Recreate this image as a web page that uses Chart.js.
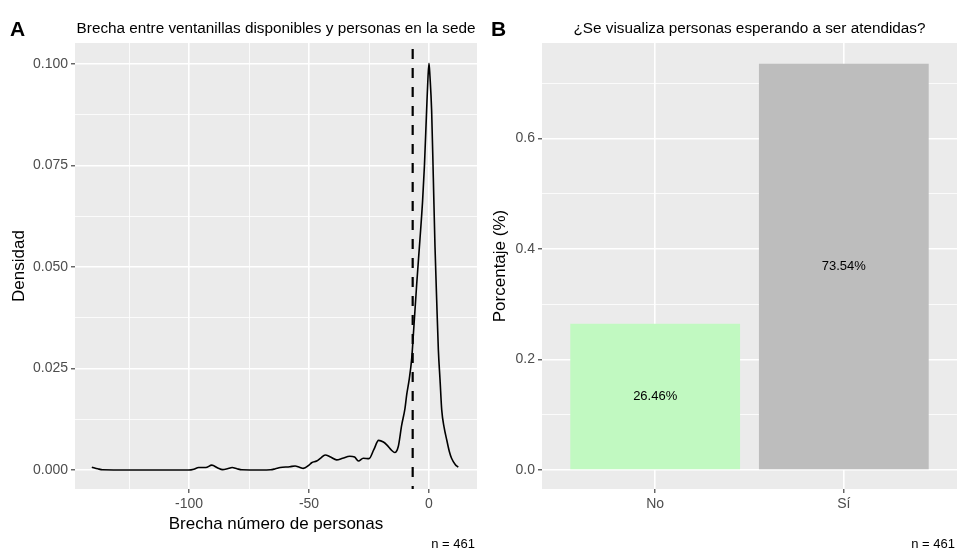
<!DOCTYPE html>
<html>
<head>
<meta charset="utf-8">
<script src="https://cdn.jsdelivr.net/npm/chart.js@4.4.1/dist/chart.umd.min.js"></script>
<style>
  html, body { margin: 0; padding: 0; background: #ffffff; }
  #wrap { position: relative; width: 957px; height: 551px; overflow: hidden; }
  canvas { position: absolute; top: 0; }
</style>
</head>
<body>
<div id="wrap">
  <canvas id="gapChart" width="480" height="551" style="left:0px"></canvas>
  <canvas id="waitChart" width="477" height="551" style="left:480px"></canvas>
</div>
<script>
// Panel A: density of the gap (open windows minus people at the office)
const gapValues = [
  -140.5, -138, -136, -125, -110, -100, -98, -96, -93, -90.5,
  -88, -86, -84, -82, -80, -78, -70, -66, -64, -62,
  -58, -55.8, -54, -52.4, -50, -48.9, -46.8, -45, -43.3, -41,
  -38.5, -36, -33, -31, -29.4, -27.4, -25, -23, -21, -19,
  -17.6, -15.5, -14.3, -12.8, -11.4, -10, -9.3, -8.2, -7.2, -6.5,
  -5.1, -3.75, -2.7, -1.9, -1.0, -0.4, 0, 0.4, 1.1, 1.8,
  2.5, 3.2, 3.9, 4.6, 5.3, 6.3, 7.4, 8.5, 9.4, 11,
  12.2
];
const densityValues = [
  0.0007, 0.0003, 0.00005, 0, 0, 0, 0.0002, 0.0006, 0.0006, 0.0012,
  0.0005, 0.0001, 0.0003, 0.0006, 0.0003, 0.00005, 0, 0.00005, 0.0003, 0.0006,
  0.0008, 0.001, 0.0007, 0.0004, 0.0012, 0.0018, 0.0022, 0.003, 0.0037, 0.0032,
  0.0025, 0.0029, 0.0034, 0.0032, 0.0022, 0.0029, 0.0028, 0.005, 0.0073, 0.0069,
  0.0062, 0.0048, 0.0043, 0.0058, 0.011, 0.0152, 0.0185, 0.0225, 0.0275, 0.0335,
  0.046, 0.057, 0.066, 0.075, 0.0885, 0.097, 0.1002, 0.097, 0.0885, 0.072,
  0.055, 0.0419, 0.0296, 0.0222, 0.0148, 0.0105, 0.0074, 0.0045, 0.0029, 0.0013,
  0.0007
];
const meanGap = -6.8;
const gapTicks = [-125, -100, -75, -50, -25, 0];
const gapMajorTicks = [-100, -50, 0];
const densityTicks = [0, 0.0125, 0.025, 0.0375, 0.05, 0.0625, 0.075, 0.0875, 0.1];
const densityMajorTicks = [0, 0.025, 0.05, 0.075, 0.1];

// Panel B: share of visits where people were seen waiting
const answerLabels = ['No', 'Sí'];
const answerShares = [0.2646, 0.7354];
const shareTicks = [0, 0.1, 0.2, 0.3, 0.4, 0.5, 0.6, 0.7];
const shareMajorTicks = [0, 0.2, 0.4, 0.6];

const sampleSize = 461;

const FONT = '"Liberation Sans", Arial, Helvetica, sans-serif';
const TICK_COLOR = '#4D4D4D';
const PANEL_BG = '#EBEBEB';
const TICK_SIZE = 14;
const AXIS_TITLE_SIZE = 17;

function isMajor(list, v) {
  return list.some(m => Math.abs(m - v) < 1e-9);
}
function tickIsMajor(majors, ctx) {
  return !!(ctx && ctx.tick) && isMajor(majors, ctx.tick.value);
}
function setTicks(values) {
  return scale => { scale.ticks = values.map(v => ({ value: v })); };
}
function gridFor(majors) {
  return {
    offset: false,
    color: '#FFFFFF',
    lineWidth: ctx => tickIsMajor(majors, ctx) ? 1.6 : 0.8,
    tickColor: ctx => tickIsMajor(majors, ctx) ? '#333333' : 'rgba(0,0,0,0)',
    tickWidth: 1.1,
    tickLength: 4,
    drawTicks: true
  };
}

// Grey panel background, panel letter, title and sample-size caption
const panelDecor = {
  id: 'panelDecor',
  beforeDraw(chart) {
    const { ctx, chartArea: a } = chart;
    ctx.save();
    ctx.fillStyle = PANEL_BG;
    ctx.fillRect(a.left, a.top, a.right - a.left, a.bottom - a.top);
    ctx.restore();
  },
  afterDraw(chart, args, opts) {
    const { ctx, chartArea: a } = chart;
    ctx.save();
    ctx.fillStyle = '#000000';
    ctx.textBaseline = 'alphabetic';
    ctx.font = 'bold 21px ' + FONT;
    ctx.textAlign = 'left';
    ctx.fillText(opts.letter, opts.letterX, 36);
    ctx.font = '15.3px ' + FONT;
    ctx.textAlign = 'center';
    ctx.fillText(opts.title, (a.left + a.right) / 2, 33);
    ctx.font = '13px ' + FONT;
    ctx.textAlign = 'right';
    ctx.fillText('n = ' + sampleSize, a.right - 2, 548);
    ctx.restore();
  }
};

// Dashed vertical reference line at the mean gap
const meanLine = {
  id: 'meanLine',
  afterDatasetsDraw(chart) {
    const { ctx, chartArea: a } = chart;
    const x = chart.scales.x.getPixelForValue(meanGap);
    ctx.save();
    ctx.strokeStyle = '#000000';
    ctx.lineWidth = 2.2;
    ctx.setLineDash([10, 9]);
    ctx.beginPath();
    ctx.moveTo(x, a.top + 6);
    ctx.lineTo(x, a.bottom);
    ctx.stroke();
    ctx.restore();
  }
};

// Percentage printed in the middle of each bar
const barLabels = {
  id: 'barLabels',
  afterDatasetsDraw(chart) {
    const { ctx } = chart;
    const meta = chart.getDatasetMeta(0);
    ctx.save();
    ctx.fillStyle = '#000000';
    ctx.font = '13px ' + FONT;
    ctx.textAlign = 'center';
    ctx.textBaseline = 'middle';
    meta.data.forEach((bar, i) => {
      const v = answerShares[i];
      const yMid = chart.scales.y.getPixelForValue(v / 2);
      ctx.fillText((v * 100).toFixed(2) + '%', bar.x, yMid);
    });
    ctx.restore();
  }
};

Chart.defaults.font.family = FONT;

new Chart(document.getElementById('gapChart'), {
  type: 'line',
  data: {
    datasets: [{
      data: gapValues.map((x, i) => ({ x: x, y: densityValues[i] })),
      borderColor: '#000000',
      borderWidth: 1.6,
      pointRadius: 0,
      fill: false,
      cubicInterpolationMode: 'monotone'
    }]
  },
  options: {
    responsive: false,
    animation: false,
    layout: { padding: { top: 43, right: 3, left: 0, bottom: 0 } },
    plugins: {
      legend: { display: false },
      tooltip: { enabled: false },
      panelDecor: {
        letter: 'A', letterX: 10,
        title: 'Brecha entre ventanillas disponibles y personas en la sede'
      }
    },
    scales: {
      x: {
        type: 'linear',
        min: -147.5, max: 20,
        afterBuildTicks: setTicks(gapTicks),
        afterFit: s => { s.height = 62; },
        grid: gridFor(gapMajorTicks),
        border: { display: false },
        ticks: {
          autoSkip: false, maxRotation: 0, padding: 3,
          color: TICK_COLOR, font: { size: TICK_SIZE },
          callback: v => isMajor(gapMajorTicks, v) ? String(v) : ''
        },
        title: {
          display: true, text: 'Brecha número de personas',
          color: '#000000', font: { size: AXIS_TITLE_SIZE }, padding: { top: 0, bottom: 16 }
        }
      },
      y: {
        type: 'linear',
        min: -0.00468, max: 0.1052,
        afterBuildTicks: setTicks(densityTicks),
        afterFit: s => { s.width = 75; },
        grid: gridFor(densityMajorTicks),
        border: { display: false },
        ticks: {
          autoSkip: false, padding: 3,
          color: TICK_COLOR, font: { size: TICK_SIZE },
          callback: v => isMajor(densityMajorTicks, v) ? v.toFixed(3) : ''
        },
        title: {
          display: true, text: 'Densidad',
          color: '#000000', font: { size: AXIS_TITLE_SIZE }, padding: { top: 9, bottom: 0 }
        }
      }
    }
  },
  plugins: [panelDecor, meanLine]
});

new Chart(document.getElementById('waitChart'), {
  type: 'bar',
  data: {
    datasets: [{
      data: answerShares.map((s, i) => ({ x: i + 1, y: s })),
      backgroundColor: ['#C1F9C1', '#BDBDBD'],
      borderWidth: 0,
      categoryPercentage: 1,
      barPercentage: 0.9
    }]
  },
  options: {
    responsive: false,
    animation: false,
    layout: { padding: { top: 43, right: 0, left: 0, bottom: 0 } },
    plugins: {
      legend: { display: false },
      tooltip: { enabled: false },
      panelDecor: {
        letter: 'B', letterX: 11,
        title: '¿Se visualiza personas esperando a ser atendidas?'
      }
    },
    scales: {
      x: {
        type: 'linear',
        min: 0.4, max: 2.6,
        offset: false,
        afterBuildTicks: setTicks([1, 2]),
        afterFit: s => { s.height = 62; },
        grid: gridFor([1, 2]),
        border: { display: false },
        ticks: {
          autoSkip: false, maxRotation: 0, padding: 3,
          color: TICK_COLOR, font: { size: TICK_SIZE },
          callback: v => answerLabels[Math.round(v) - 1] || ''
        }
      },
      y: {
        type: 'linear',
        min: -0.0344, max: 0.7729,
        afterBuildTicks: setTicks(shareTicks),
        afterFit: s => { s.width = 62; },
        grid: gridFor(shareMajorTicks),
        border: { display: false },
        ticks: {
          autoSkip: false, padding: 3,
          color: TICK_COLOR, font: { size: TICK_SIZE },
          callback: v => isMajor(shareMajorTicks, v) ? v.toFixed(1) : ''
        },
        title: {
          display: true, text: 'Porcentaje (%)',
          color: '#000000', font: { size: AXIS_TITLE_SIZE }, padding: { top: 10, bottom: 0 }
        }
      }
    }
  },
  plugins: [panelDecor, barLabels]
});
</script>
</body>
</html>
